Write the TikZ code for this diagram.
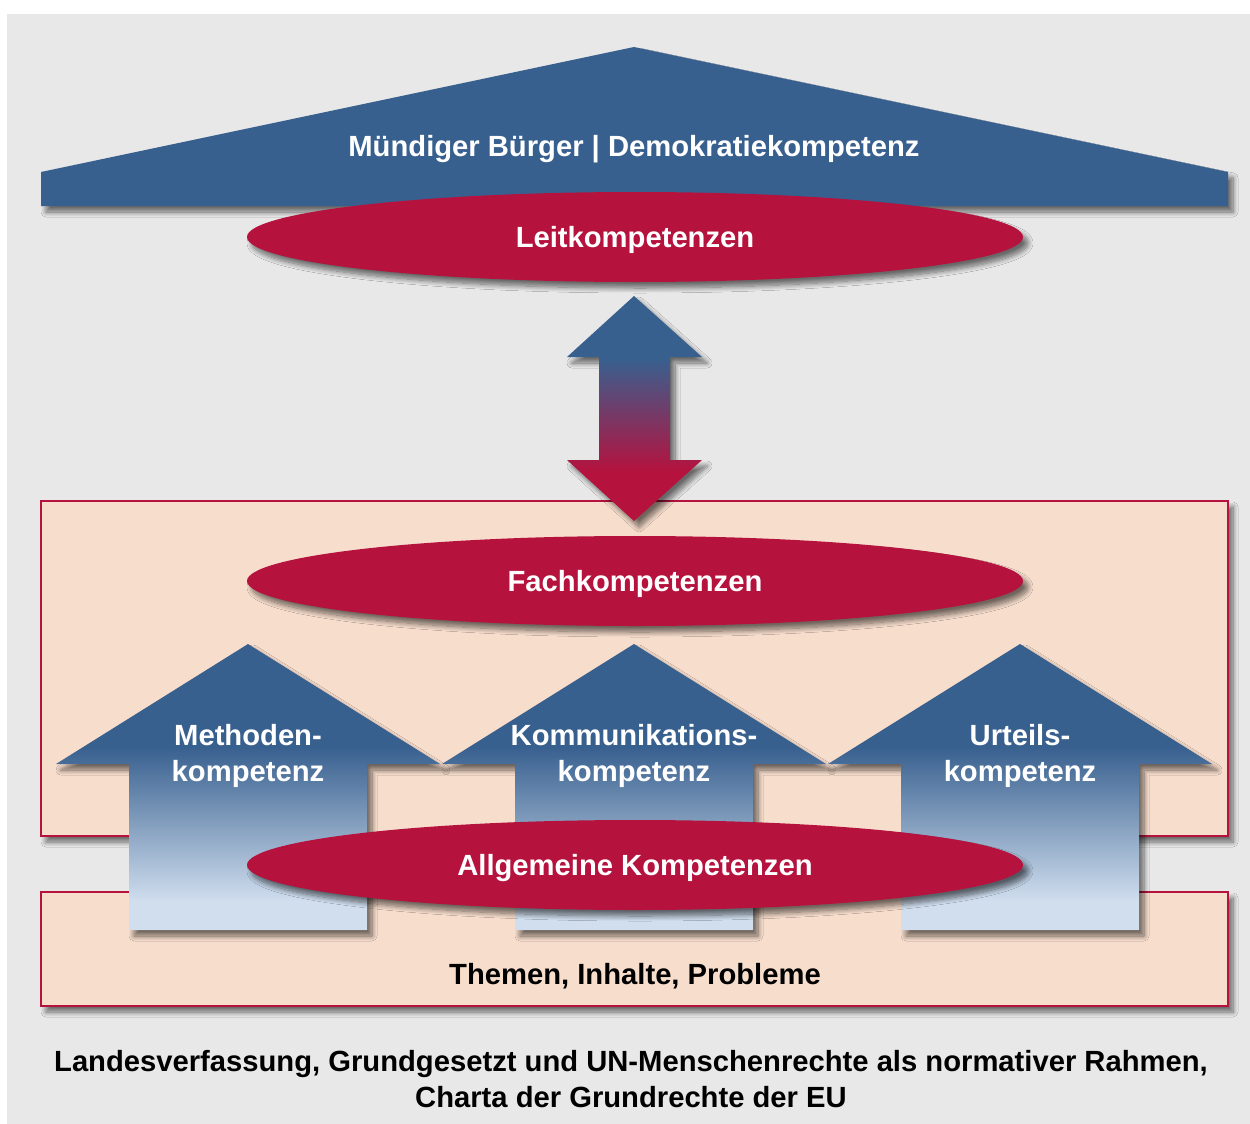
\documentclass[tikz,border=0pt]{standalone}
\usepackage{fontspec}
\setmainfont{Liberation Sans}
\usetikzlibrary{shapes.geometric,shadows.blur,positioning}

\definecolor{kblue}{RGB}{56,96,143}
\definecolor{kred}{RGB}{181,18,62}
\definecolor{kpeach}{RGB}{247,221,204}
\definecolor{kgray}{RGB}{232,232,232}
\definecolor{klight}{RGB}{208,222,238}
\pgfdeclareverticalshading{housegrad}{100bp}{color(0bp)=(klight); color(30bp)=(klight); color(57bp)=(kblue); color(100bp)=(kblue)}
\pgfdeclareverticalshading{bigrad}{100bp}{color(0bp)=(kred); color(36bp)=(kred); color(61bp)=(kblue); color(100bp)=(kblue)}

\tikzset{
	schatten/.style={blur shadow={shadow xshift=5pt,shadow yshift=-6pt,shadow opacity=55,shadow blur radius=5pt,shadow blur steps=10}},
	txt/.style={font=\fontsize{29.2}{36}\selectfont\bfseries,align=center,inner sep=0pt},
	ring/.style={ellipse,fill=kred,schatten,minimum width=776pt,minimum height=90pt,inner sep=0pt,txt,text=white,text height=27pt,text depth=6pt},
	frame/.style={draw=kred,line width=2.6pt,fill=kpeach,schatten,minimum width=1187pt,inner sep=0pt},
	house/.style={shading=housegrad,schatten},
	biarrow/.style={shading=bigrad,schatten}
}

\begin{document}
\begin{tikzpicture}[x=1pt,y=-1pt]
	\useasboundingbox (0,0) rectangle (1250,1124);
	\fill[kgray] (7,14) rectangle (1250,1124);
	% Dach
	\path[fill=kblue,schatten] (41,206) -- (41,172) -- (634,47) -- (1228,172) -- (1228,206) -- cycle;
	\node[txt,text=white](buerger) at (634,149){Mündiger Bürger | Demokratiekompetenz};
	\node[ring](leit) at (635,237){Leitkompetenzen};
	% Kaesten
	\node[frame,minimum height=335pt](fachbox) at (634.5,668.5){};
	\node[frame,minimum height=114pt](themenbox) at (634.5,949){};
	\path[biarrow] (634,296) -- (702,357) -- (670,357) -- (670,460) -- (702,460) -- (634,521)
		-- (567,460) -- (599,460) -- (599,357) -- (567,357) -- cycle;
	\node[ring](fach) at (635,581){Fachkompetenzen};
	% Pfeile
	\foreach \x/\n/\t in {248/meth/{Methoden-\\kompetenz},634/komm/{Kommunikations-\\kompetenz},1020/urt/{Urteils-\\kompetenz}}{
		\path[house] (\x,644) -- ++(192,120) -- ++(-73,0) -- ++(0,166) -- ++(-238,0) -- ++(0,-166) -- ++(-73,0) -- cycle;
		\node[txt,text=white](\n) at (\x,756){\t};
	}
	\node[ring](allg) at (635,865){Allgemeine Kompetenzen};
	\node[txt](themen) at (635,976){Themen, Inhalte, Probleme};
	\node[txt](rahmen) at (631,1079){Landesverfassung, Grundgesetzt und UN-Menschenrechte als normativer Rahmen,\\Charta der Grundrechte der EU};
\end{tikzpicture}
\end{document}
